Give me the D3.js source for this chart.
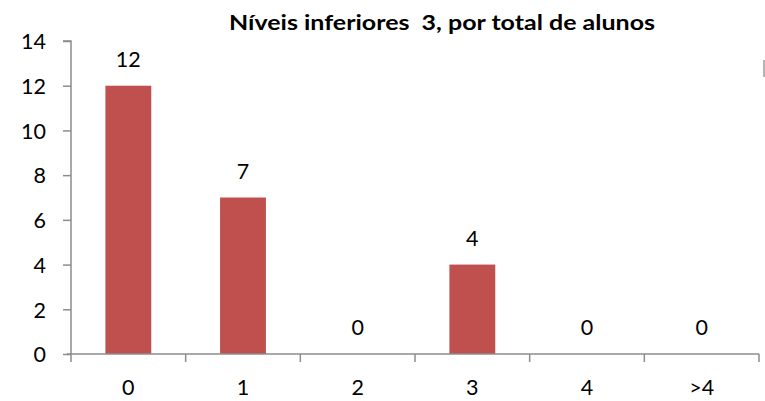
<!DOCTYPE html>
<html>
<head>
<meta charset="utf-8">
<script src="https://cdn.jsdelivr.net/npm/d3@7"></script>
<style>
  html, body { margin: 0; padding: 0; background: #fff; }
  svg { display: block; }
  svg text { font-family: Lato, "Open Sans", sans-serif; fill: #000; }
</style>
</head>
<body>
<svg id="chart" width="765" height="401"></svg>
<script>
// Number of students per count of lower levels
const categories = ["0", "1", "2", "3", "4", ">4"];
const values = [12, 7, 0, 4, 0, 0];
const yTicks = [0, 2, 4, 6, 8, 10, 12, 14];
const title = "Níveis inferiores  3, por total de alunos";

const svg = d3.select("#chart");
const margin = { left: 71, right: 6, top: 41, bottom: 47 };
const W = 765, H = 401;
const fs = "21.5px";

const x = d3.scaleBand()
  .domain(categories)
  .range([margin.left, W - margin.right])
  .paddingInner(0.6)
  .paddingOuter(0.3);

const y = d3.scaleLinear()
  .domain([0, 14])
  .range([H - margin.bottom, margin.top]);

const axisColor = "#8c8c8c";

// Y axis
const yAxis = svg.append("g")
  .attr("transform", `translate(${margin.left},0)`)
  .call(d3.axisLeft(y).tickValues(yTicks).tickSize(8).tickPadding(17).tickFormat(d3.format("d")));
yAxis.attr("font-family", null).attr("font-size", null);
yAxis.select(".domain").attr("stroke", axisColor).attr("stroke-width", 1.5).attr("d", `M-8,${y(14)}H0V${y(0)}`);
yAxis.selectAll(".tick line").attr("stroke", axisColor).attr("stroke-width", 1.5);
yAxis.selectAll(".tick text").attr("fill", "#000").attr("dy", "0.36em").style("font-size", fs);

// Bars
svg.append("g").selectAll("rect")
  .data(values)
  .join("rect")
  .attr("x", (d, i) => x(categories[i]))
  .attr("width", x.bandwidth())
  .attr("y", d => y(d))
  .attr("height", d => y(0) - y(d))
  .attr("fill", "#C0504D");

// X axis with boundary ticks between categories
const xg = svg.append("g").attr("transform", `translate(0,${y(0)})`);
const x0 = margin.left, x1 = W - margin.right;
const step = (x1 - x0) / categories.length;
xg.append("line")
  .attr("x1", x0 - 4).attr("x2", x1)
  .attr("stroke", axisColor).attr("stroke-width", 1.5);
xg.selectAll("line.tk")
  .data(d3.range(categories.length + 1))
  .join("line")
  .attr("class", "tk")
  .attr("x1", i => x0 + i * step).attr("x2", i => x0 + i * step)
  .attr("y1", 0).attr("y2", 8)
  .attr("stroke", axisColor).attr("stroke-width", 1.5);
xg.selectAll("text")
  .data(categories)
  .join("text")
  .attr("x", d => x(d) + x.bandwidth() / 2)
  .attr("y", 41)
  .attr("text-anchor", "middle")
  .style("font-size", fs)
  .text(d => d);

// Value labels
svg.append("g").selectAll("text")
  .data(values)
  .join("text")
  .attr("x", (d, i) => x(categories[i]) + x.bandwidth() / 2)
  .attr("y", d => y(d) - 19)
  .attr("text-anchor", "middle")
  .style("font-size", fs)
  .text(d => d);

// Title
svg.append("text")
  .attr("x", 442)
  .attr("y", 30)
  .attr("text-anchor", "middle")
  .attr("textLength", 426)
  .attr("lengthAdjust", "spacingAndGlyphs")
  .style("font-size", "21px")
  .style("font-weight", "bold")
  .style("white-space", "pre")
  .text(title);

// Small stray mark at the right edge
svg.append("line")
  .attr("x1", 764).attr("x2", 764)
  .attr("y1", 60).attr("y2", 77)
  .attr("stroke", "#9a9a9a").attr("stroke-width", 1.5);
</script>
</body>
</html>
